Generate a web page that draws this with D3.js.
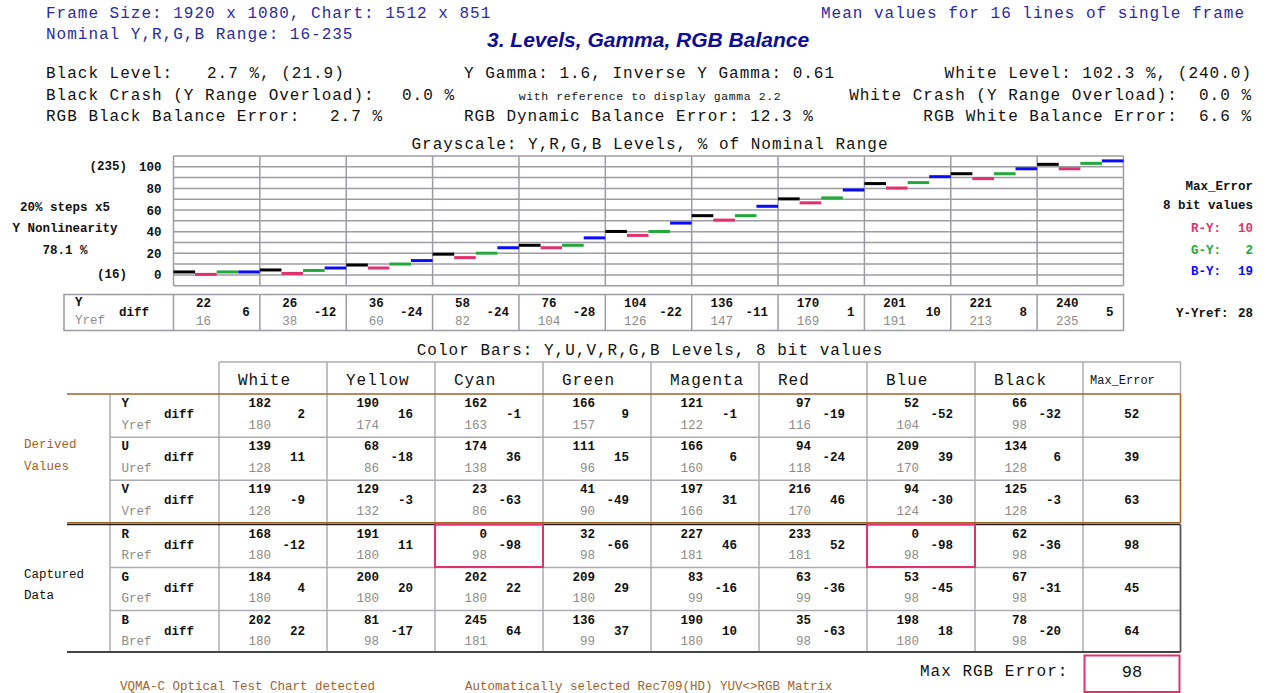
<!DOCTYPE html>
<html><head><meta charset="utf-8">
<script src="https://cdn.jsdelivr.net/npm/d3@7"></script>
<style>
body{margin:0;background:#fff;}
text{white-space:pre;}
</style>
</head><body>
<svg id="c" width="1267" height="693"></svg>
<script>
// ---------- DATA ----------
const grayYref = [16, 38, 60, 82, 104, 126, 147, 169, 191, 213, 235];
const grayY    = [22, 26, 36, 58, 76, 104, 136, 170, 201, 221, 240];
const grayR    = [17, 19, 30, 51, 71, 96, 127, 162, 192, 211, 231];
const grayG    = [22, 25, 38, 60, 76, 104, 136, 172, 203, 221, 242];
const grayB    = [22, 30, 45, 71, 91, 121, 155, 188, 215, 231, 247];
const yTicks   = [0, 20, 40, 60, 80, 100];

const barNames = ["White", "Yellow", "Cyan", "Green", "Magenta", "Red", "Blue", "Black"];
const barY  = [182, 190, 162, 166, 121, 97, 52, 66];
const refY  = [180, 174, 163, 157, 122, 116, 104, 98];
const barU  = [139, 68, 174, 111, 166, 94, 209, 134];
const refU  = [128, 86, 138, 96, 160, 118, 170, 128];
const barV  = [119, 129, 23, 41, 197, 216, 94, 125];
const refV  = [128, 132, 86, 90, 166, 170, 124, 128];
const barR  = [168, 191, 0, 32, 227, 233, 0, 62];
const refR  = [180, 180, 98, 98, 181, 181, 98, 98];
const barG  = [184, 200, 202, 209, 83, 63, 53, 67];
const refG  = [180, 180, 180, 180, 99, 99, 98, 98];
const barB  = [202, 81, 245, 136, 190, 35, 198, 78];
const refB  = [180, 98, 181, 99, 180, 98, 180, 98];

// ---------- STYLE ----------
const MONO = "'Liberation Mono', 'DejaVu Sans Mono', monospace";
const BLUE_TXT = "#2a2aa8", TITLE = "#0c0c96", BROWN = "#a4622a", GRAY_TXT = "#8c8c8c";
const PINK = "#e2306c", GREEN = "#24a83c", BLUE = "#0a0aff", GRID = "#9c9ca4";

const svg = d3.select("#c");

function txt(str, x, y, o = {}) {
  return svg.append("text").text(str)
    .attr("x", x).attr("y", y)
    .attr("dominant-baseline", "central")
    .attr("text-anchor", o.anchor || "start")
    .attr("font-family", o.family || MONO)
    .attr("font-size", o.size || 16)
    .attr("font-weight", o.weight || "normal")
    .attr("font-style", o.style || "normal")
    .attr("letter-spacing", o.ls !== undefined ? o.ls : 1)
    .attr("fill", o.fill || "#111");
}
function line(x1, y1, x2, y2, stroke, w) {
  svg.append("line").attr("x1", x1).attr("y1", y1).attr("x2", x2).attr("y2", y2)
    .attr("stroke", stroke).attr("stroke-width", w || 1.5);
}

// ---------- HEADER ----------
txt("Frame Size: 1920 x 1080, Chart: 1512 x 851", 46, 14, {fill: BLUE_TXT});
txt("Mean values for 16 lines of single frame", 1245, 14, {fill: BLUE_TXT, anchor: "end"});
txt("Nominal Y,R,G,B Range: 16-235", 46, 35, {fill: BLUE_TXT});
txt("3. Levels, Gamma, RGB Balance", 487, 39, {family: "'Liberation Sans', Arial, sans-serif", size: 21, weight: "bold", style: "italic", fill: TITLE, ls: 0});

txt("Black Level:", 46, 74);
txt("2.7 %, (21.9)", 207, 74);
txt("Y Gamma: 1.6, Inverse Y Gamma: 0.61", 464, 74);
txt("White Level: 102.3 %, (240.0)", 1252, 74, {anchor: "end"});

txt("Black Crash (Y Range Overload):", 46, 96);
txt("0.0 %", 402, 96);
txt("with reference to display gamma 2.2", 650, 96, {anchor: "middle", size: 11.5, ls: 0.6});
txt("White Crash (Y Range Overload):  0.0 %", 1252, 96, {anchor: "end"});

txt("RGB Black Balance Error:", 46, 117);
txt("2.7 %", 330, 117);
txt("RGB Dynamic Balance Error: 12.3 %", 464, 117);
txt("RGB White Balance Error:  6.6 %", 1252, 117, {anchor: "end"});

// ---------- GRAYSCALE CHART ----------
txt("Grayscale: Y,R,G,B Levels, % of Nominal Range", 650, 145, {anchor: "middle"});

const x = d3.scaleBand().domain(d3.range(grayY.length)).range([173.5, 1123.5]).padding(0);
const chans = ["Y", "R", "G", "B"];
const cx = d3.scaleBand().domain(chans).range([0, x.bandwidth()]).padding(0);
const y = d3.scaleLinear().domain([-10, 110]).range([285.7, 156]);
const pct = v => (v - 16) / 219 * 100;

const grid = svg.append("g");
d3.range(-10, 111, 10).forEach(v => {
  grid.append("line").attr("x1", x.range()[0]).attr("x2", x.range()[1])
    .attr("y1", y(v)).attr("y2", y(v)).attr("stroke", GRID).attr("stroke-width", 1.5);
});
d3.range(0, grayY.length + 1).forEach(i => {
  const xx = i < grayY.length ? x(i) : x.range()[1];
  grid.append("line").attr("x1", xx).attr("x2", xx)
    .attr("y1", y(110)).attr("y2", y(-10)).attr("stroke", GRID).attr("stroke-width", 1.5);
});

const series = [
  {key: "Y", vals: grayY, color: "#000"},
  {key: "R", vals: grayR, color: PINK},
  {key: "G", vals: grayG, color: GREEN},
  {key: "B", vals: grayB, color: BLUE}
];
series.forEach(s => {
  svg.append("g").selectAll("rect").data(s.vals).join("rect")
    .attr("x", (d, i) => x(i) + cx(s.key))
    .attr("width", cx.bandwidth())
    .attr("y", d => y(pct(d)) - 1.5)
    .attr("height", 3)
    .attr("fill", s.color);
});

const ax = svg.append("g").attr("transform", `translate(${x.range()[0]},0)`)
  .call(d3.axisLeft(y).tickValues(yTicks).tickSize(0).tickPadding(12));
ax.select(".domain").remove();
ax.selectAll("text").attr("font-family", MONO).attr("font-size", 12.5).attr("font-weight", "bold").attr("fill", "#111");

txt("(235)", 127, y(100), {anchor: "end", size: 12.5, ls: 0, weight: "bold"});
txt("(16)", 127, y(0), {anchor: "end", size: 12.5, ls: 0, weight: "bold"});
txt("20% steps x5", 65, 208, {anchor: "middle", size: 12.5, ls: 0, weight: "bold"});
txt("Y Nonlinearity", 65, 229, {anchor: "middle", size: 12.5, ls: 0, weight: "bold"});
txt("78.1 %", 65, 250.5, {anchor: "middle", size: 12.5, ls: 0, weight: "bold"});

const maxErr = arr => d3.max(arr, (v, i) => Math.abs(v - grayY[i]));
txt("Max_Error", 1253, 187, {anchor: "end", size: 12.5, ls: 0, weight: "bold"});
txt("8 bit values", 1253, 206, {anchor: "end", size: 12.5, ls: 0, weight: "bold"});
[["R-Y:", grayR, PINK, 229], ["G-Y:", grayG, GREEN, 250.5], ["B-Y:", grayB, BLUE, 272]].forEach(([lab, arr, col, yy]) => {
  txt(lab, 1191, yy, {size: 12.5, ls: 0, fill: col, weight: "bold"});
  txt(String(maxErr(arr)), 1253, yy, {anchor: "end", size: 12.5, ls: 0, fill: col, weight: "bold"});
});

// diff row
const dTop = 294.5, dBot = 330.5;
svg.append("rect").attr("x", 64).attr("y", dTop).attr("width", x.range()[1] - 64).attr("height", dBot - dTop)
  .attr("fill", "none").attr("stroke", GRID).attr("stroke-width", 1.5);
d3.range(0, grayY.length).forEach(i => line(x(i), dTop, x(i), dBot, GRID, 1.5));
txt("Y", 75, 303, {size: 12.5, ls: 0, weight: "bold"});
txt("Yref", 75, 321, {size: 12.5, ls: 0, fill: GRAY_TXT});
txt("diff", 119, 313, {size: 12.5, ls: 0, weight: "bold"});
grayY.forEach((v, i) => {
  const x0 = x(i), x1 = x0 + x.bandwidth();
  txt(String(v), x0 + 30, 304, {anchor: "middle", size: 12.5, ls: 0, weight: "bold"});
  txt(String(grayYref[i]), x0 + 30, 321.5, {anchor: "middle", size: 12.5, ls: 0, fill: GRAY_TXT});
  txt(String(v - grayYref[i]), x1 - 10, 313, {anchor: "end", size: 12.5, ls: 0, weight: "bold"});
});
const yyMax = d3.max(grayY, (v, i) => Math.abs(v - grayYref[i]));
txt("Y-Yref:", 1176, 314, {size: 12.5, ls: 0, weight: "bold"});
txt(String(yyMax), 1253, 314, {anchor: "end", size: 12.5, ls: 0, weight: "bold"});

// ---------- COLOR BARS TABLE ----------
txt("Color Bars: Y,U,V,R,G,B Levels, 8 bit values", 650, 351, {anchor: "middle"});

const colX = d3.scaleBand().domain(barNames).range([219, 1083]).padding(0);
const maxColL = 1083, maxColR = 1180.5;
const hdrTop = 362, hdrBot = 394;
const rows = [
  {lab: "Y", ref: "Yref", v: barY, r: refY, top: 394},
  {lab: "U", ref: "Uref", v: barU, r: refU, top: 437.2},
  {lab: "V", ref: "Vref", v: barV, r: refV, top: 480.3},
  {lab: "R", ref: "Rref", v: barR, r: refR, top: 524.5},
  {lab: "G", ref: "Gref", v: barG, r: refG, top: 567.5},
  {lab: "B", ref: "Bref", v: barB, r: refB, top: 610.5}
];
const rowH = 42.5;

// gray grid
const TG = "#acacb2";
line(219, hdrTop, maxColR, hdrTop, TG);
barNames.forEach(n => line(colX(n), hdrTop, colX(n), 652, TG));
line(maxColL, hdrTop, maxColL, 652, TG);
line(maxColR, hdrTop, maxColR, hdrBot, TG);
line(110, hdrBot, 110, 652, TG);
[437.2, 480.3, 567.5, 610.5].forEach(yy => line(110, yy, maxColR, yy, TG));

// section borders
line(67, hdrBot, maxColR, hdrBot, BROWN, 1.6);
line(67, 522.7, maxColR, 522.7, BROWN, 1.6);
line(maxColR, hdrBot, maxColR, 522.7, BROWN, 1.6);
line(67, 524.5, maxColR, 524.5, "#222", 1.6);
line(67, 652, maxColR, 652, "#444", 2);
line(maxColR, 524.5, maxColR, 652, "#555", 1.8);

// headers
barNames.forEach(n => txt(n, colX(n) + 19, 381));
txt("Max_Error", maxColL + 7, 381, {size: 12, ls: 0});

// rows
rows.forEach(rw => {
  txt(rw.lab, 121.5, rw.top + 10, {size: 12.5, ls: 0, weight: "bold"});
  txt(rw.ref, 121.5, rw.top + 31.5, {size: 12.5, ls: 0, fill: GRAY_TXT});
  txt("diff", 164, rw.top + 21, {size: 12.5, ls: 0, weight: "bold"});
  barNames.forEach((n, i) => {
    const x0 = colX(n), x1 = x0 + colX.bandwidth();
    txt(String(rw.v[i]), x0 + 52, rw.top + 10, {anchor: "end", size: 12.5, ls: 0, weight: "bold"});
    txt(String(rw.r[i]), x0 + 52, rw.top + 31.5, {anchor: "end", size: 12.5, ls: 0, fill: GRAY_TXT});
    txt(String(rw.v[i] - rw.r[i]), x1 - 22, rw.top + 21, {anchor: "end", size: 12.5, ls: 0, weight: "bold"});
  });
  const m = d3.max(rw.v, (v, i) => Math.abs(v - rw.r[i]));
  txt(String(m), (maxColL + maxColR) / 2, rw.top + 21, {anchor: "middle", size: 12.5, ls: 0, weight: "bold"});
  rw.max = m;
});

// highlight cells with maximum RGB error
const rgbRows = rows.slice(3);
const maxRGB = d3.max(rgbRows, r => r.max);
rgbRows.forEach(rw => {
  barNames.forEach((n, i) => {
    if (Math.abs(rw.v[i] - rw.r[i]) === maxRGB) {
      svg.append("rect").attr("x", colX(n)).attr("y", rw.top).attr("width", colX.bandwidth()).attr("height", rowH)
        .attr("fill", "none").attr("stroke", PINK).attr("stroke-width", 2);
    }
  });
});

// section labels
txt("Derived", 24, 445, {size: 12.5, ls: 0, fill: BROWN});
txt("Values", 24, 467, {size: 12.5, ls: 0, fill: BROWN});
txt("Captured", 24, 575, {size: 12.5, ls: 0});
txt("Data", 24, 596, {size: 12.5, ls: 0});

// Max RGB Error
txt("Max RGB Error:", 920, 672);
svg.append("rect").attr("x", 1084.5).attr("y", 655.5).attr("width", 95).attr("height", 36.5)
  .attr("fill", "none").attr("stroke", PINK).attr("stroke-width", 2);
txt(String(maxRGB), 1132, 672, {anchor: "middle", size: 17, ls: 0});

// footer
txt("VQMA-C Optical Test Chart detected", 120, 687, {size: 12.5, ls: 0, fill: BROWN});
txt("Automatically selected Rec709(HD) YUV<>RGB Matrix", 465, 687, {size: 12.5, ls: 0, fill: BROWN});
</script>
</body></html>
